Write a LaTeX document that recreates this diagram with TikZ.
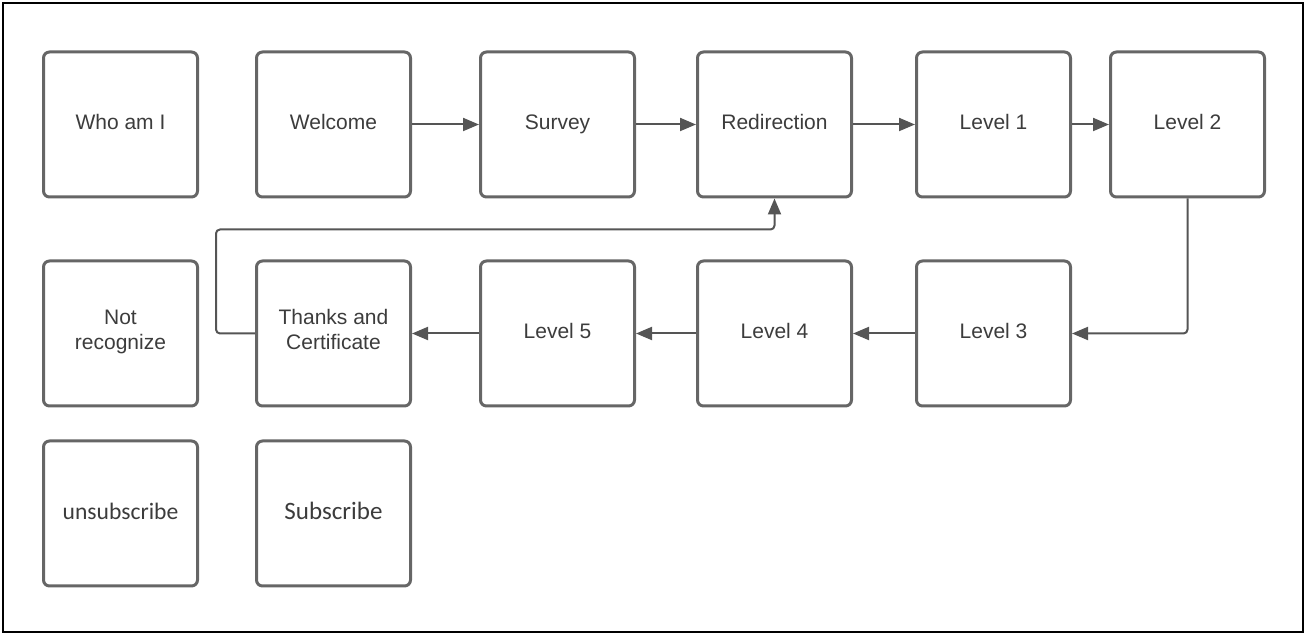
\documentclass[tikz,border=0pt]{standalone}
\usepackage{fontspec}
\setmainfont{Liberation Sans}
\newfontfamily\subfont{Carlito}
\usetikzlibrary{positioning,arrows.meta}
\definecolor{boxgray}{HTML}{666666}
\definecolor{linegray}{HTML}{555555}
\definecolor{textgray}{HTML}{3C3C3C}

\begin{document}
\begin{tikzpicture}[%
            x=0.5pt, y=-0.5pt,
            screen/.style={rectangle, draw=boxgray, line width=1.5pt, rounded corners=3pt,
                minimum width=77pt, minimum height=72.5pt, align=center,
                text=textgray, font=\fontsize{10.5}{12.5}\selectfont,
                execute at begin node=\strut},
            arrow/.style={-{Triangle[length=8pt,width=6.5pt]}, draw=linegray, line width=1pt}
        ]

        % Frame
        \draw[line width=1.2pt] (3,3) rectangle (1303,632);
        \useasboundingbox (0,0) rectangle (1306,635);

        % Top row
        \node[screen] (whoami) at (120.5,124.5) {Who am I};
        \node[screen] (welcome) [right=28pt of whoami] {Welcome};
        \node[screen] (survey) [right=33.5pt of welcome] {Survey};
        \node[screen] (redirection) [right=30pt of survey] {Redirection};
        \node[screen] (level1) [right=31pt of redirection] {Level 1};
        \node[screen] (level2) [right=18.5pt of level1] {Level 2};

        % Middle row
        \node[screen] (notrecognize) [below=30.5pt of whoami] {Not\\recognize};
        \node[screen] (thanks) [below=30.5pt of welcome] {Thanks and\\Certificate};
        \node[screen] (level5) [below=30.5pt of survey] {Level 5};
        \node[screen] (level4) [below=30.5pt of redirection] {Level 4};
        \node[screen] (level3) [below=30.5pt of level1] {Level 3};

        % Bottom row
        \node[screen, font=\subfont\fontsize{11.8}{14}\selectfont] (unsubscribe) [below=16pt of notrecognize] {unsubscribe};
        \node[screen, font=\subfont\fontsize{12.5}{14}\selectfont] (subscribe) [below=16pt of thanks] {Subscribe};

        % Forward flow
        \draw[arrow] (welcome) -- (survey);
        \draw[arrow] (survey) -- (redirection);
        \draw[arrow] (redirection) -- (level1);
        \draw[arrow] (level1) -- (level2);
        \draw[arrow, rounded corners=2pt] (level2.south) |- (level3.east);
        \draw[arrow] (level3) -- (level4);
        \draw[arrow] (level4) -- (level5);
        \draw[arrow] (level5) -- (thanks);

        % Back to redirection
        \coordinate (back) at ([yshift=-15.5pt]redirection.south);
        \draw[arrow, rounded corners=2pt] (thanks.west) -- ++(-19.5pt,0) |- (back) -- (redirection.south);

        \end{tikzpicture}
\end{document}
